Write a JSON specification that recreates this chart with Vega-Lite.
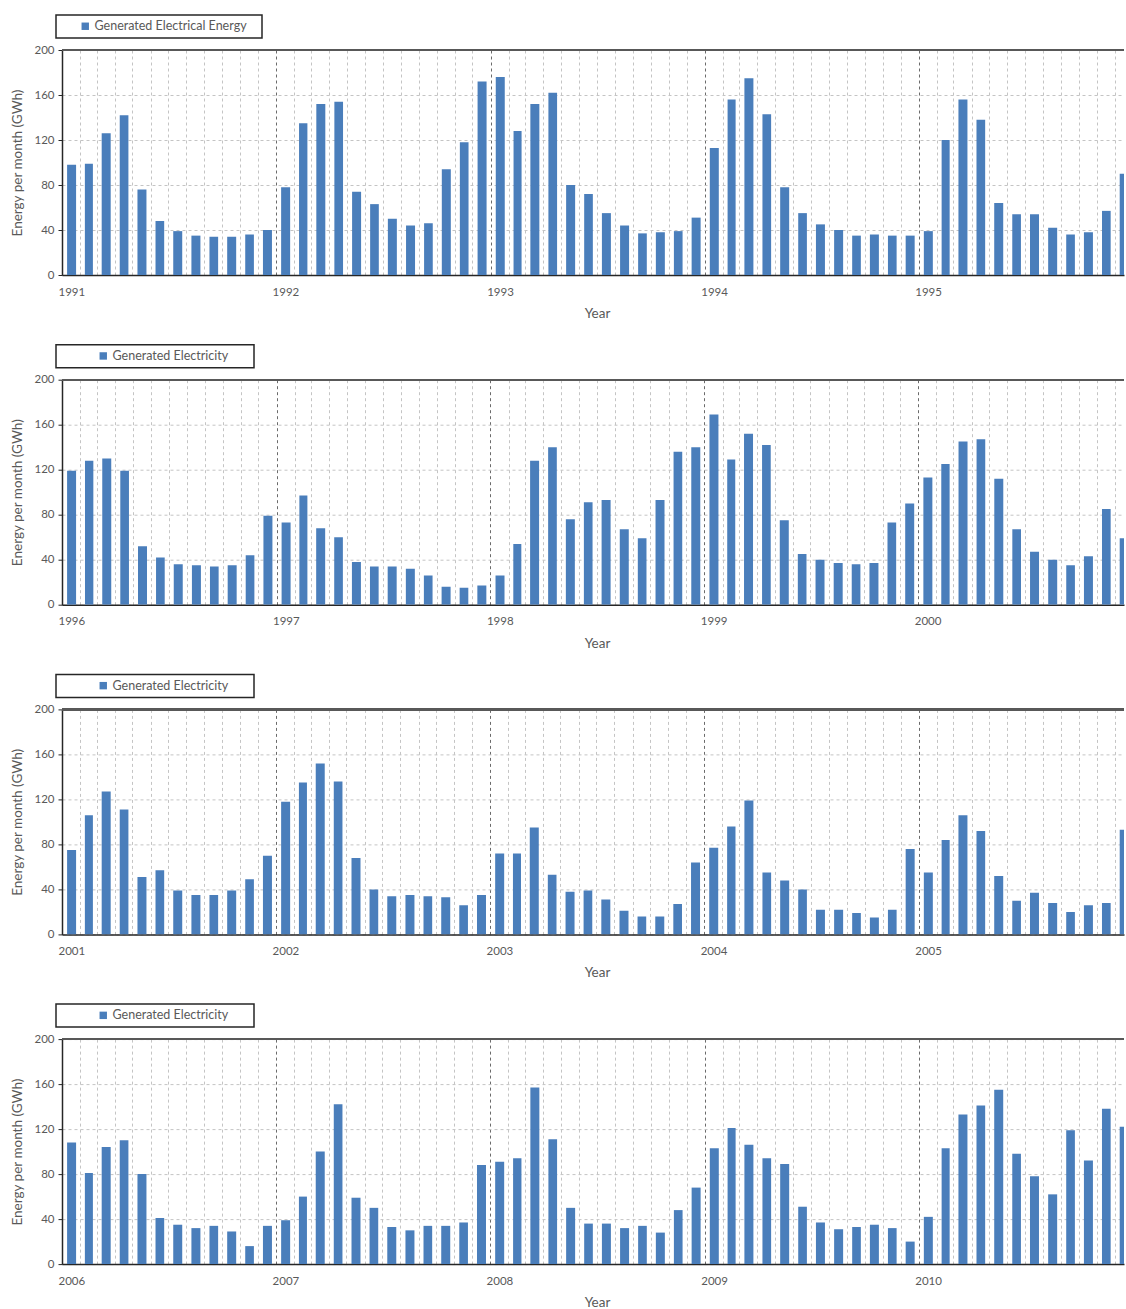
{
  "$schema": "https://vega.github.io/schema/vega-lite/v6.json",
  "padding": {"left": 10, "top": 14, "right": 0, "bottom": 2},
  "datasets": {
    "p1": [
      {"month": "1991-01", "energy": 98}, {"month": "1991-02", "energy": 99}, {"month": "1991-03", "energy": 126}, {"month": "1991-04", "energy": 142},
      {"month": "1991-05", "energy": 76}, {"month": "1991-06", "energy": 48}, {"month": "1991-07", "energy": 39}, {"month": "1991-08", "energy": 35},
      {"month": "1991-09", "energy": 34}, {"month": "1991-10", "energy": 34}, {"month": "1991-11", "energy": 36}, {"month": "1991-12", "energy": 40},
      {"month": "1992-01", "energy": 78}, {"month": "1992-02", "energy": 135}, {"month": "1992-03", "energy": 152}, {"month": "1992-04", "energy": 154},
      {"month": "1992-05", "energy": 74}, {"month": "1992-06", "energy": 63}, {"month": "1992-07", "energy": 50}, {"month": "1992-08", "energy": 44},
      {"month": "1992-09", "energy": 46}, {"month": "1992-10", "energy": 94}, {"month": "1992-11", "energy": 118}, {"month": "1992-12", "energy": 172},
      {"month": "1993-01", "energy": 176}, {"month": "1993-02", "energy": 128}, {"month": "1993-03", "energy": 152}, {"month": "1993-04", "energy": 162},
      {"month": "1993-05", "energy": 80}, {"month": "1993-06", "energy": 72}, {"month": "1993-07", "energy": 55}, {"month": "1993-08", "energy": 44},
      {"month": "1993-09", "energy": 37}, {"month": "1993-10", "energy": 38}, {"month": "1993-11", "energy": 39}, {"month": "1993-12", "energy": 51},
      {"month": "1994-01", "energy": 113}, {"month": "1994-02", "energy": 156}, {"month": "1994-03", "energy": 175}, {"month": "1994-04", "energy": 143},
      {"month": "1994-05", "energy": 78}, {"month": "1994-06", "energy": 55}, {"month": "1994-07", "energy": 45}, {"month": "1994-08", "energy": 40},
      {"month": "1994-09", "energy": 35}, {"month": "1994-10", "energy": 36}, {"month": "1994-11", "energy": 35}, {"month": "1994-12", "energy": 35},
      {"month": "1995-01", "energy": 39}, {"month": "1995-02", "energy": 120}, {"month": "1995-03", "energy": 156}, {"month": "1995-04", "energy": 138},
      {"month": "1995-05", "energy": 64}, {"month": "1995-06", "energy": 54}, {"month": "1995-07", "energy": 54}, {"month": "1995-08", "energy": 42},
      {"month": "1995-09", "energy": 36}, {"month": "1995-10", "energy": 38}, {"month": "1995-11", "energy": 57}, {"month": "1995-12", "energy": 90}
    ],
    "p2": [
      {"month": "1996-01", "energy": 119}, {"month": "1996-02", "energy": 128}, {"month": "1996-03", "energy": 130}, {"month": "1996-04", "energy": 119},
      {"month": "1996-05", "energy": 52}, {"month": "1996-06", "energy": 42}, {"month": "1996-07", "energy": 36}, {"month": "1996-08", "energy": 35},
      {"month": "1996-09", "energy": 34}, {"month": "1996-10", "energy": 35}, {"month": "1996-11", "energy": 44}, {"month": "1996-12", "energy": 79},
      {"month": "1997-01", "energy": 73}, {"month": "1997-02", "energy": 97}, {"month": "1997-03", "energy": 68}, {"month": "1997-04", "energy": 60},
      {"month": "1997-05", "energy": 38}, {"month": "1997-06", "energy": 34}, {"month": "1997-07", "energy": 34}, {"month": "1997-08", "energy": 32},
      {"month": "1997-09", "energy": 26}, {"month": "1997-10", "energy": 16}, {"month": "1997-11", "energy": 15}, {"month": "1997-12", "energy": 17},
      {"month": "1998-01", "energy": 26}, {"month": "1998-02", "energy": 54}, {"month": "1998-03", "energy": 128}, {"month": "1998-04", "energy": 140},
      {"month": "1998-05", "energy": 76}, {"month": "1998-06", "energy": 91}, {"month": "1998-07", "energy": 93}, {"month": "1998-08", "energy": 67},
      {"month": "1998-09", "energy": 59}, {"month": "1998-10", "energy": 93}, {"month": "1998-11", "energy": 136}, {"month": "1998-12", "energy": 140},
      {"month": "1999-01", "energy": 169}, {"month": "1999-02", "energy": 129}, {"month": "1999-03", "energy": 152}, {"month": "1999-04", "energy": 142},
      {"month": "1999-05", "energy": 75}, {"month": "1999-06", "energy": 45}, {"month": "1999-07", "energy": 40}, {"month": "1999-08", "energy": 37},
      {"month": "1999-09", "energy": 36}, {"month": "1999-10", "energy": 37}, {"month": "1999-11", "energy": 73}, {"month": "1999-12", "energy": 90},
      {"month": "2000-01", "energy": 113}, {"month": "2000-02", "energy": 125}, {"month": "2000-03", "energy": 145}, {"month": "2000-04", "energy": 147},
      {"month": "2000-05", "energy": 112}, {"month": "2000-06", "energy": 67}, {"month": "2000-07", "energy": 47}, {"month": "2000-08", "energy": 40},
      {"month": "2000-09", "energy": 35}, {"month": "2000-10", "energy": 43}, {"month": "2000-11", "energy": 85}, {"month": "2000-12", "energy": 59}
    ],
    "p3": [
      {"month": "2001-01", "energy": 75}, {"month": "2001-02", "energy": 106}, {"month": "2001-03", "energy": 127}, {"month": "2001-04", "energy": 111},
      {"month": "2001-05", "energy": 51}, {"month": "2001-06", "energy": 57}, {"month": "2001-07", "energy": 39}, {"month": "2001-08", "energy": 35},
      {"month": "2001-09", "energy": 35}, {"month": "2001-10", "energy": 39}, {"month": "2001-11", "energy": 49}, {"month": "2001-12", "energy": 70},
      {"month": "2002-01", "energy": 118}, {"month": "2002-02", "energy": 135}, {"month": "2002-03", "energy": 152}, {"month": "2002-04", "energy": 136},
      {"month": "2002-05", "energy": 68}, {"month": "2002-06", "energy": 40}, {"month": "2002-07", "energy": 34}, {"month": "2002-08", "energy": 35},
      {"month": "2002-09", "energy": 34}, {"month": "2002-10", "energy": 33}, {"month": "2002-11", "energy": 26}, {"month": "2002-12", "energy": 35},
      {"month": "2003-01", "energy": 72}, {"month": "2003-02", "energy": 72}, {"month": "2003-03", "energy": 95}, {"month": "2003-04", "energy": 53},
      {"month": "2003-05", "energy": 38}, {"month": "2003-06", "energy": 39}, {"month": "2003-07", "energy": 31}, {"month": "2003-08", "energy": 21},
      {"month": "2003-09", "energy": 16}, {"month": "2003-10", "energy": 16}, {"month": "2003-11", "energy": 27}, {"month": "2003-12", "energy": 64},
      {"month": "2004-01", "energy": 77}, {"month": "2004-02", "energy": 96}, {"month": "2004-03", "energy": 119}, {"month": "2004-04", "energy": 55},
      {"month": "2004-05", "energy": 48}, {"month": "2004-06", "energy": 40}, {"month": "2004-07", "energy": 22}, {"month": "2004-08", "energy": 22},
      {"month": "2004-09", "energy": 19}, {"month": "2004-10", "energy": 15}, {"month": "2004-11", "energy": 22}, {"month": "2004-12", "energy": 76},
      {"month": "2005-01", "energy": 55}, {"month": "2005-02", "energy": 84}, {"month": "2005-03", "energy": 106}, {"month": "2005-04", "energy": 92},
      {"month": "2005-05", "energy": 52}, {"month": "2005-06", "energy": 30}, {"month": "2005-07", "energy": 37}, {"month": "2005-08", "energy": 28},
      {"month": "2005-09", "energy": 20}, {"month": "2005-10", "energy": 26}, {"month": "2005-11", "energy": 28}, {"month": "2005-12", "energy": 93}
    ],
    "p4": [
      {"month": "2006-01", "energy": 108}, {"month": "2006-02", "energy": 81}, {"month": "2006-03", "energy": 104}, {"month": "2006-04", "energy": 110},
      {"month": "2006-05", "energy": 80}, {"month": "2006-06", "energy": 41}, {"month": "2006-07", "energy": 35}, {"month": "2006-08", "energy": 32},
      {"month": "2006-09", "energy": 34}, {"month": "2006-10", "energy": 29}, {"month": "2006-11", "energy": 16}, {"month": "2006-12", "energy": 34},
      {"month": "2007-01", "energy": 39}, {"month": "2007-02", "energy": 60}, {"month": "2007-03", "energy": 100}, {"month": "2007-04", "energy": 142},
      {"month": "2007-05", "energy": 59}, {"month": "2007-06", "energy": 50}, {"month": "2007-07", "energy": 33}, {"month": "2007-08", "energy": 30},
      {"month": "2007-09", "energy": 34}, {"month": "2007-10", "energy": 34}, {"month": "2007-11", "energy": 37}, {"month": "2007-12", "energy": 88},
      {"month": "2008-01", "energy": 91}, {"month": "2008-02", "energy": 94}, {"month": "2008-03", "energy": 157}, {"month": "2008-04", "energy": 111},
      {"month": "2008-05", "energy": 50}, {"month": "2008-06", "energy": 36}, {"month": "2008-07", "energy": 36}, {"month": "2008-08", "energy": 32},
      {"month": "2008-09", "energy": 34}, {"month": "2008-10", "energy": 28}, {"month": "2008-11", "energy": 48}, {"month": "2008-12", "energy": 68},
      {"month": "2009-01", "energy": 103}, {"month": "2009-02", "energy": 121}, {"month": "2009-03", "energy": 106}, {"month": "2009-04", "energy": 94},
      {"month": "2009-05", "energy": 89}, {"month": "2009-06", "energy": 51}, {"month": "2009-07", "energy": 37}, {"month": "2009-08", "energy": 31},
      {"month": "2009-09", "energy": 33}, {"month": "2009-10", "energy": 35}, {"month": "2009-11", "energy": 32}, {"month": "2009-12", "energy": 20},
      {"month": "2010-01", "energy": 42}, {"month": "2010-02", "energy": 103}, {"month": "2010-03", "energy": 133}, {"month": "2010-04", "energy": 141},
      {"month": "2010-05", "energy": 155}, {"month": "2010-06", "energy": 98}, {"month": "2010-07", "energy": 78}, {"month": "2010-08", "energy": 62},
      {"month": "2010-09", "energy": 119}, {"month": "2010-10", "energy": 92}, {"month": "2010-11", "energy": 138}, {"month": "2010-12", "energy": 122}
    ]
  },
  "spacing": 104.7,
  "bounds": "flush",
  "resolve": {"scale": {"color": "independent"}},
  "vconcat": [
    {
      "data": {"name": "p1"},
      "width": 1062, "height": 225,
      "layer": [
        {
          "mark": {"type": "bar", "clip": true, "width": {"band": 0.55}},
          "encoding": {
            "x": {"field": "month", "type": "temporal", "timeUnit": "yearmonth", "title": "Year",
                  "scale": {"domain": [{"year": 1991, "month": 1, "date": 1}, {"year": 1995, "month": 12, "date": 17}]}},
            "y": {"field": "energy", "type": "quantitative", "title": "Energy per month (GWh)", "scale": {"domain": [0, 200], "nice": false},
                  "axis": {"values": [0, 20, 40, 60, 80, 100, 120, 140, 160, 180, 200]}},
            "color": {"datum": "Generated Electrical Energy", "scale": {"range": ["#4a7ebb"]},
                      "legend": {"symbolOffset": 18, "labelExpr": "datum.label + '\u2800'"}}
          }
        },
        {"mark": {"type": "rule", "color": "#595959", "strokeWidth": 1.5}, "encoding": {"y": {"datum": 200}}}
      ]
    },
    {
      "data": {"name": "p2"},
      "width": 1062, "height": 225,
      "layer": [
        {
          "mark": {"type": "bar", "clip": true, "width": {"band": 0.55}},
          "encoding": {
            "x": {"field": "month", "type": "temporal", "timeUnit": "yearmonth", "title": "Year",
                  "scale": {"domain": [{"year": 1996, "month": 1, "date": 1}, {"year": 2000, "month": 12, "date": 17}]}},
            "y": {"field": "energy", "type": "quantitative", "title": "Energy per month (GWh)", "scale": {"domain": [0, 200], "nice": false},
                  "axis": {"values": [0, 20, 40, 60, 80, 100, 120, 140, 160, 180, 200]}},
            "color": {"datum": "Generated Electricity", "scale": {"range": ["#4a7ebb"]},
                      "legend": {"symbolOffset": 36, "labelExpr": "datum.label + '\u2800\u2800'"}}
          }
        },
        {"mark": {"type": "rule", "color": "#595959", "strokeWidth": 1.5}, "encoding": {"y": {"datum": 200}}}
      ]
    },
    {
      "data": {"name": "p3"},
      "width": 1062, "height": 225,
      "layer": [
        {
          "mark": {"type": "bar", "clip": true, "width": {"band": 0.55}},
          "encoding": {
            "x": {"field": "month", "type": "temporal", "timeUnit": "yearmonth", "title": "Year",
                  "scale": {"domain": [{"year": 2001, "month": 1, "date": 1}, {"year": 2005, "month": 12, "date": 17}]}},
            "y": {"field": "energy", "type": "quantitative", "title": "Energy per month (GWh)", "scale": {"domain": [0, 200], "nice": false},
                  "axis": {"values": [0, 20, 40, 60, 80, 100, 120, 140, 160, 180, 200]}},
            "color": {"datum": "Generated Electricity", "scale": {"range": ["#4a7ebb"]},
                      "legend": {"symbolOffset": 36, "labelExpr": "datum.label + '\u2800\u2800'"}}
          }
        },
        {"mark": {"type": "rule", "color": "#595959", "strokeWidth": 1.5}, "encoding": {"y": {"datum": 200}}}
      ]
    },
    {
      "data": {"name": "p4"},
      "width": 1062, "height": 225,
      "layer": [
        {
          "mark": {"type": "bar", "clip": true, "width": {"band": 0.55}},
          "encoding": {
            "x": {"field": "month", "type": "temporal", "timeUnit": "yearmonth", "title": "Year",
                  "scale": {"domain": [{"year": 2006, "month": 1, "date": 1}, {"year": 2010, "month": 12, "date": 17}]}},
            "y": {"field": "energy", "type": "quantitative", "title": "Energy per month (GWh)", "scale": {"domain": [0, 200], "nice": false},
                  "axis": {"values": [0, 20, 40, 60, 80, 100, 120, 140, 160, 180, 200]}},
            "color": {"datum": "Generated Electricity", "scale": {"range": ["#4a7ebb"]},
                      "legend": {"symbolOffset": 36, "labelExpr": "datum.label + '\u2800\u2800'"}}
          }
        },
        {"mark": {"type": "rule", "color": "#595959", "strokeWidth": 1.5}, "encoding": {"y": {"datum": 200}}}
      ]
    }
  ],
  "config": {
    "font": "Lato",
    "view": {"stroke": null},
    "axis": {
      "labelFont": "Lato", "labelFontSize": 11.5, "labelColor": "#595959",
      "titleFont": "Lato", "titleFontSize": 13.5, "titleFontWeight": "normal", "titleColor": "#595959",
      "domainColor": "#262626", "domainWidth": 1.5, "tickColor": "#262626",
      "grid": true, "gridDash": [3, 3], "gridColor": "#c4c4c4", "gridWidth": 1
    },
    "axisX": {
      "tickCount": {"interval": "month", "step": 1},
      "labelExpr": "month(datum.value) == 0 ? timeFormat(datum.value, '%Y') : ''",
      "labelOverlap": false, "labelFlush": false, "labelAlign": "left", "labelOffset": -4,
      "labelPadding": 6, "tickSize": 5,
      "tickOpacity": {"condition": {"test": "month(datum.value) == 0", "value": 1}, "value": 0},
      "gridColor": {"condition": {"test": "month(datum.value) == 0", "value": "#6b6b6b"}, "value": "#c4c4c4"},
      "titlePadding": 9, "titleX": 535
    },
    "axisY": {
      "tickSize": 4, "labelPadding": 4, "titlePadding": 9, "labelOverlap": false
    },
    "legend": {
      "orient": "none", "legendX": -6, "legendY": -35, "title": null,
      "strokeColor": "#262626", "strokeWidth": 1.5, "fillColor": "#ffffff", "padding": 5,
      "symbolType": "square", "symbolSize": 55, "symbolStrokeWidth": 0, "labelLimit": 400,
      "labelFont": "Lato", "labelFontSize": 12.5, "labelColor": "#595959", "labelOffset": 3
    }
  }
}
